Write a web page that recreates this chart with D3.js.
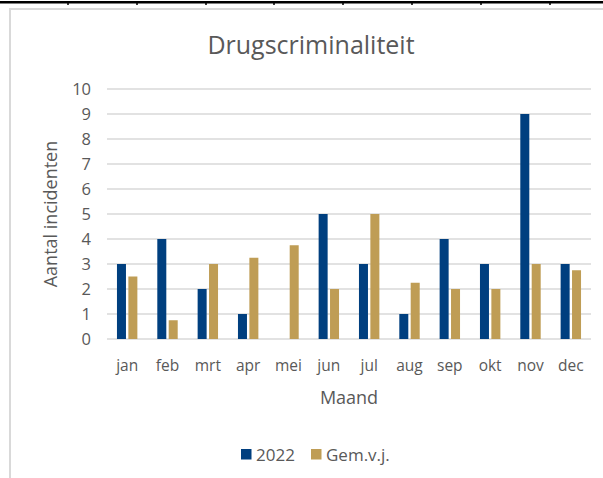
<!DOCTYPE html>
<html>
<head>
<meta charset="utf-8">
<script src="https://cdn.jsdelivr.net/npm/d3@7"></script>
<style>
  body { margin: 0; background: #fff; }
  text { font-family: "Open Sans", "DejaVu Sans", sans-serif; fill: #595959; }
</style>
</head>
<body>
<script>
var svgWidth = 603;
var svgHeight = 478;

var months = ["jan", "feb", "mrt", "apr", "mei", "jun", "jul", "aug", "sep", "okt", "nov", "dec"];
var seriesNames = ["2022", "Gem.v.j."];
var values2022 = [3, 4, 2, 1, 0, 5, 3, 1, 4, 3, 9, 3];
var valuesAvg = [2.5, 0.75, 3, 3.25, 3.75, 2, 5, 2.25, 2, 2, 3, 2.75];
var yTicks = [0, 1, 2, 3, 4, 5, 6, 7, 8, 9, 10];
var colors = ["#003f7f", "#bf9d55"];

var svg = d3.select("body")
    .append("svg")
    .attr("width", svgWidth)
    .attr("height", svgHeight);

svg.append("rect")
    .attr("width", svgWidth)
    .attr("height", svgHeight)
    .attr("fill", "#fff");

// spreadsheet edge at the top
svg.append("rect")
    .attr("x", 0).attr("y", 1)
    .attr("width", svgWidth).attr("height", 2.5)
    .attr("fill", "#000");
svg.selectAll(".cellTick")
    .data([68, 137, 206, 274, 343, 412, 481, 550]).enter()
    .append("rect")
    .attr("x", d => d - 0.75).attr("y", 1)
    .attr("width", 1.5).attr("height", 4)
    .attr("fill", "#000");

// chart frame
svg.append("path")
    .attr("d", "M10," + svgHeight + " L10,9 L" + svgWidth + ",9")
    .attr("fill", "none")
    .attr("stroke", "#d9d9d9")
    .attr("stroke-width", 2);

var xScale = d3.scaleBand()
    .domain(months)
    .range([107, 591]);

var innerScale = d3.scaleBand()
    .domain(seriesNames)
    .range([xScale.bandwidth() / 2 - 10.2, xScale.bandwidth() / 2 + 10.2])
    .paddingInner(0.21);

var yScale = d3.scaleLinear()
    .domain([0, 10])
    .range([339, 89]);

// gridlines
svg.selectAll(".grid")
    .data(yTicks).enter()
    .append("line")
    .attr("x1", xScale.range()[0])
    .attr("x2", xScale.range()[1])
    .attr("y1", d => yScale(d))
    .attr("y2", d => yScale(d))
    .attr("stroke", "#d9d9d9")
    .attr("stroke-width", 1.3);

// y tick labels
svg.selectAll(".yLabel")
    .data(yTicks).enter()
    .append("text")
    .attr("x", 91)
    .attr("y", d => yScale(d))
    .attr("dy", "0.36em")
    .attr("text-anchor", "end")
    .style("font-size", "16.5px")
    .text(d => d);

// bars
var seriesData = [values2022, valuesAvg];
seriesData.forEach((vals, s) => {
    svg.selectAll(".bar" + s)
        .data(vals).enter()
        .append("rect")
        .attr("x", (d, i) => xScale(months[i]) + innerScale(seriesNames[s]))
        .attr("width", innerScale.bandwidth())
        .attr("y", d => yScale(d))
        .attr("height", d => yScale(0) - yScale(d))
        .attr("fill", colors[s]);
});

// x tick labels
svg.selectAll(".xLabel")
    .data(months).enter()
    .append("text")
    .attr("x", d => xScale(d) + xScale.bandwidth() / 2)
    .attr("y", 371)
    .attr("text-anchor", "middle")
    .style("font-size", "15.5px")
    .text(d => d);

// titles
svg.append("text")
    .attr("x", 311).attr("y", 54)
    .attr("text-anchor", "middle")
    .style("font-size", "25px")
    .text("Drugscriminaliteit");

svg.append("text")
    .attr("transform", "translate(57,214) rotate(-90)")
    .attr("text-anchor", "middle")
    .style("font-size", "18px")
    .text("Aantal incidenten");

svg.append("text")
    .attr("x", 349).attr("y", 404)
    .attr("text-anchor", "middle")
    .style("font-size", "18px")
    .text("Maand");

// legend
var legendX = [241, 311];
var legend = svg.selectAll(".legend")
    .data(seriesNames).enter()
    .append("g")
    .attr("transform", (d, i) => "translate(" + legendX[i] + ",449)");
legend.append("rect")
    .attr("width", 10.5).attr("height", 10.5)
    .attr("fill", (d, i) => colors[i]);
legend.append("text")
    .attr("x", 15).attr("y", 11.5)
    .style("font-size", "17px")
    .text(d => d);
</script>
</body>
</html>
